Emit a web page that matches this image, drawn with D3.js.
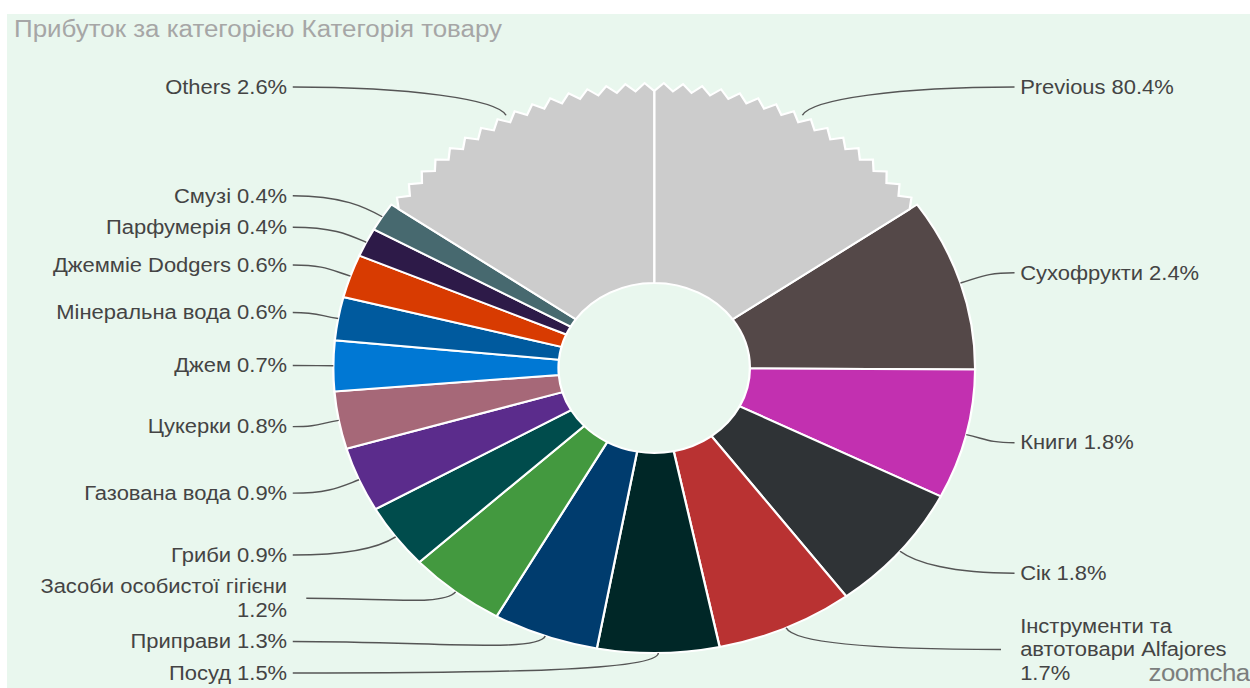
<!DOCTYPE html>
<html>
<head>
<meta charset="utf-8">
<script src="https://cdn.jsdelivr.net/npm/d3@7"></script>
<style>
  html, body { margin: 0; padding: 0; background: #ffffff; overflow: hidden; }
  svg { display: block; }
  text { font-family: "Liberation Sans", Arial, sans-serif; }
</style>
</head>
<body>
<svg id="chart" width="1250" height="688"></svg>
<script>
// Profit share by product category, clockwise from 12 o'clock.
// "Previous" and "Others" are folded groups drawn as serrated wedges.
const categories = [
  "Previous", "Сухофрукти", "Книги", "Сік", "Інструменти та автотовари Alfajores",
  "Посуд", "Приправи", "Засоби особистої гігієни", "Гриби", "Газована вода",
  "Цукерки", "Джем", "Мінеральна вода", "Джеммie Dodgers", "Парфумерія", "Смузі", "Others"
];
const shares = [80.4, 2.4, 1.8, 1.8, 1.7, 1.5, 1.3, 1.2, 0.9, 0.9, 0.8, 0.7, 0.6, 0.6, 0.4, 0.4, 2.6];
const sliceColors = [
  "#cccccc", "#544848", "#c230b0", "#2f3336", "#b93232",
  "#002727", "#003c6e", "#43993f", "#004c4c", "#5b2c8c",
  "#a66878", "#0078d4", "#005a9e", "#d83b01", "#2d1a48", "#47696f", "#cccccc"
];
const foldedGroups = ["Previous", "Others"];
const titleText = "Прибуток за категорією Категорія товару";

const W = 1250, H = 688;
const SX = 1.126;                 // horizontal stretch of the whole drawing
const cx = 581, cy = 368;
const R = 285, R0 = 85;
const FOLD = 55 * Math.PI / 180;  // angular span given to each folded group
const TOOTH = 3.44 * Math.PI / 180, DEPTH = 8;
const FONT = 19.5, LH = 23.5, GAP = 8;
const TOP = 87, BOTTOM = 673;
const RIGHT_X = 906, LEFT_X = 255;
const LABEL_R = 1.12;

const svg = d3.select("#chart");
svg.append("rect").attr("x", 7).attr("y", 14).attr("width", W - 7).attr("height", H - 14)
  .attr("fill", "#e9f7ee");

const root = svg.append("g").attr("transform", `scale(${SX},1)`);

root.append("text").attr("x", 12.5).attr("y", 37)
  .attr("font-size", 23).attr("fill", "#a6a6a6").text(titleText);

const data = categories.map((name, i) => ({ name, value: shares[i], color: sliceColors[i] }));
const visible = data.filter(d => !foldedGroups.includes(d.name));

const pie = d3.pie().sort(null).value(d => d.value)
  .startAngle(FOLD).endAngle(2 * Math.PI - FOLD);
const arcs = pie(visible);
const folded = [
  { data: data[0], startAngle: 0, endAngle: FOLD },
  { data: data[data.length - 1], startAngle: 2 * Math.PI - FOLD, endAngle: 2 * Math.PI }
];

const arc = d3.arc().innerRadius(R0).outerRadius(R);
const polar = (r, a) => [r * Math.sin(a), -r * Math.cos(a)];

function serratedPath(a0, a1) {
  const n = Math.max(1, Math.round((a1 - a0) / TOOTH));
  const pts = [];
  for (let i = 0; i <= 2 * n; i++) {
    const a = a0 + i * (a1 - a0) / (2 * n);
    pts.push(polar(i % 2 === 0 ? R - DEPTH : R, a));
  }
  const p = d3.path();
  p.moveTo(...pts[0]);
  pts.slice(1).forEach(q => p.lineTo(...q));
  p.lineTo(...polar(R0, a1));
  p.arc(0, 0, R0, a1 - Math.PI / 2, a0 - Math.PI / 2, true);
  p.closePath();
  return p.toString();
}

const pieG = root.append("g").attr("transform", `translate(${cx},${cy})`);
pieG.selectAll("path.slice").data(arcs).join("path")
  .attr("class", "slice").attr("d", arc)
  .attr("fill", d => d.data.color).attr("stroke", "#ffffff").attr("stroke-width", 2);
pieG.selectAll("path.fold").data(folded).join("path")
  .attr("class", "fold").attr("d", d => serratedPath(d.startAngle, d.endAngle))
  .attr("fill", d => d.data.color).attr("stroke", "#ffffff").attr("stroke-width", 2)
  .attr("stroke-linejoin", "miter");

// ---- labels ----
const fmt = d3.format(".1f");
const measurer = root.append("text").attr("font-size", FONT).attr("visibility", "hidden");
const textWidth = s => { measurer.text(s); return measurer.node().getComputedTextLength(); };
function wrap(s, maxW) {
  const words = s.split(" ");
  const lines = [];
  let cur = "";
  words.forEach(w => {
    const t = cur ? cur + " " + w : w;
    if (cur && textWidth(t) > maxW) { lines.push(cur); cur = w; } else cur = t;
  });
  lines.push(cur);
  return lines;
}

const all = [folded[0], ...arcs, folded[1]].map(d => {
  const mid = (d.startAngle + d.endAngle) / 2;
  const right = Math.sin(mid) > 0.05;   // slices near 6 o'clock go to the left column
  const label = `${d.data.name} ${fmt(d.data.value)}%`;
  const lines = wrap(label, right ? (W / SX - RIGHT_X - 2) : 232);
  return { d, mid, right, lines, y: cy - LABEL_R * R * Math.cos(mid) };
});

["left", "right"].forEach(side => {
  const items = all.filter(o => (side === "right") === o.right).sort((a, b) => a.y - b.y);
  const half = o => (o.lines.length - 1) * LH / 2;
  const sp = (a, b) => (a.lines.length + b.lines.length) * LH / 2 + GAP;
  items.forEach(o => { o.y = Math.max(TOP + half(o), Math.min(BOTTOM - half(o), o.y)); });
  for (let i = items.length - 2; i >= 0; i--) items[i].y = Math.min(items[i].y, items[i + 1].y - sp(items[i], items[i + 1]));
  for (let i = 1; i < items.length; i++) items[i].y = Math.max(items[i].y, items[i - 1].y + sp(items[i - 1], items[i]));
});

const leaders = root.append("g").attr("fill", "none").attr("stroke", "#555555").attr("stroke-width", 1.4);
all.forEach(o => {
  const [px, py] = polar(R, o.mid);
  const x0 = cx + px, y0 = cy + py;
  const extra = o.lines.length > 1 ? 12 : 0;
  const x3 = o.right ? RIGHT_X - 5 - extra : LEFT_X + 5 + extra;
  const dx = Math.sin(o.mid), dy = -Math.cos(o.mid);
  const p = d3.path();
  p.moveTo(x0, y0);
  p.bezierCurveTo(x0 + dx * 18, y0 + dy * 18,
    x3 - (x3 - x0) * 0.55, o.y, x3, o.y);
  leaders.append("path").attr("d", p.toString());
});

const labels = root.append("g").attr("font-size", FONT).attr("fill", "#444444");
all.forEach(o => {
  const t = labels.append("text")
    .attr("text-anchor", o.right ? "start" : "end")
    .attr("x", o.right ? RIGHT_X : LEFT_X);
  const y0 = o.y - (o.lines.length - 1) * LH / 2;
  o.lines.forEach((line, i) => {
    t.append("tspan").attr("x", o.right ? RIGHT_X : LEFT_X)
      .attr("y", y0 + i * LH).attr("dy", "0.35em").text(line);
  });
});
measurer.remove();

// brand mark in the corner
root.append("text").attr("x", 1020).attr("y", 681)
  .attr("font-size", 23).attr("fill", "#6a6a6a").attr("opacity", 0.85)
  .attr("letter-spacing", -0.5).text("zoomcharts");
</script>
</body>
</html>
